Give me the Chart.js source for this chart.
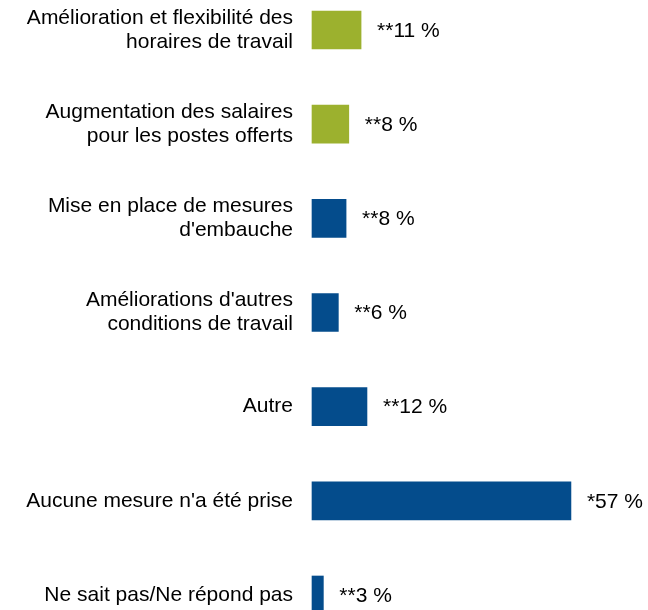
<!DOCTYPE html>
<html>
<head>
<meta charset="utf-8">
<script src="https://cdn.jsdelivr.net/npm/chart.js@4"></script>
<style>
  html, body { margin: 0; padding: 0; background: #ffffff; }
  #wrap { width: 648px; height: 610px; position: relative; }
</style>
</head>
<body>
<div id="wrap"><canvas id="c" width="648" height="610"></canvas></div>
<script>
const categories = [
  ["Amélioration et flexibilité des", "horaires de travail"],
  ["Augmentation des salaires", "pour les postes offerts"],
  ["Mise en place de mesures", "d'embauche"],
  ["Améliorations d'autres", "conditions de travail"],
  "Autre",
  "Aucune mesure n'a été prise",
  "Ne sait pas/Ne répond pas"
];
const values = [10.8, 8.1, 7.5, 5.8, 12.1, 57, 2.5];
const valueLabels = ["**11 %", "**8 %", "**8 %", "**6 %", "**12 %", "*57 %", "**3 %"];
const groups = ["green", "green", "blue", "blue", "blue", "blue", "blue"];

const palette = { green: "#9CB12E", blue: "#044C8C" };
const FONT = "Liberation Sans, Arial, sans-serif";
const FONT_SIZE = 21;

const valueLabelPlugin = {
  id: "valueLabels",
  afterDatasetsDraw(chart) {
    const ctx = chart.ctx;
    const meta = chart.getDatasetMeta(0);
    ctx.save();
    ctx.font = FONT_SIZE + "px " + FONT;
    ctx.fillStyle = "#000000";
    ctx.textAlign = "left";
    ctx.textBaseline = "middle";
    meta.data.forEach((bar, i) => {
      ctx.fillText(valueLabels[i], bar.x + 16, bar.y + 1);
    });
    ctx.restore();
  }
};

new Chart(document.getElementById("c"), {
  type: "bar",
  data: {
    labels: categories,
    datasets: [{
      data: values,
      backgroundColor: groups.map(g => palette[g]),
      borderWidth: 0,
      barThickness: 38,
      clip: false
    }]
  },
  options: {
    indexAxis: "y",
    responsive: false,
    animation: false,
    layout: { padding: { top: 30, bottom: 15, left: 0, right: 18 } },
    plugins: { legend: { display: false }, tooltip: { enabled: false } },
    scales: {
      y: {
        offset: false,
        grid: { display: false, drawTicks: false },
        border: { display: false },
        ticks: {
          color: "#000000",
          padding: 19,
          font: { family: FONT, size: FONT_SIZE, lineHeight: 1.143 }
        },
        afterFit(scale) {
          scale.width = 312;
          scale.paddingTop = 0;
          scale.paddingBottom = 0;
        }
      },
      x: {
        min: 0,
        max: 70,
        display: false
      }
    }
  },
  plugins: [valueLabelPlugin]
});
</script>
</body>
</html>
